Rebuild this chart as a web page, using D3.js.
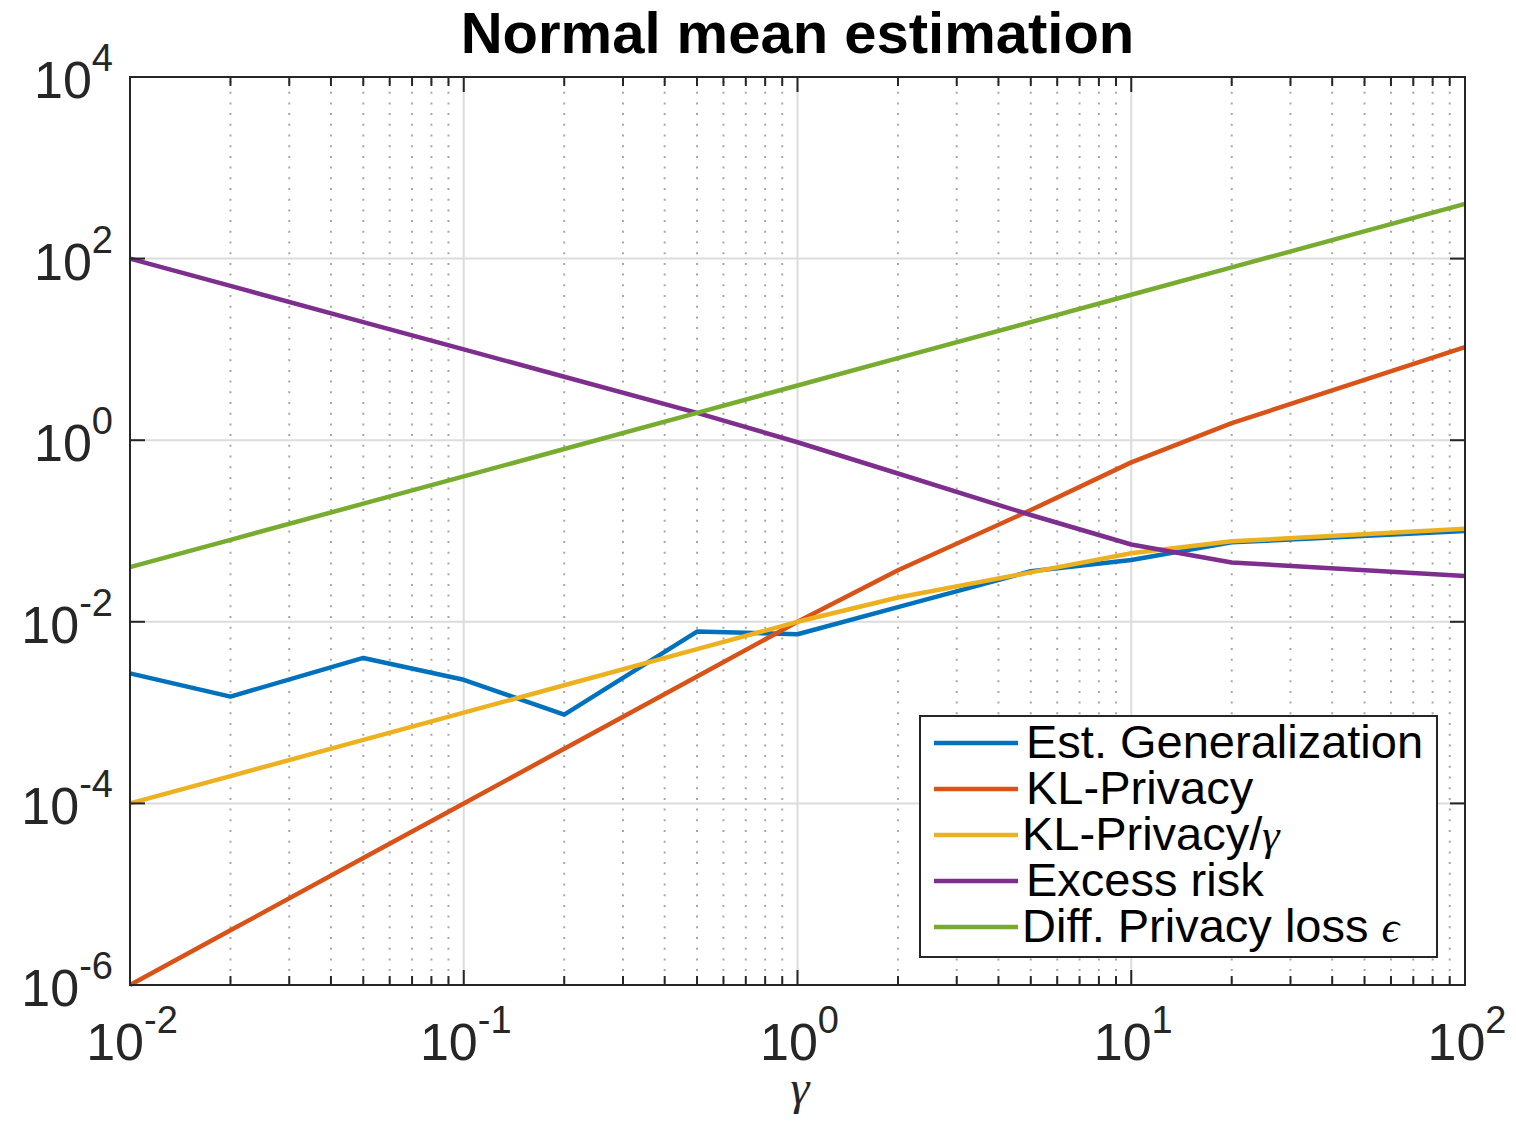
<!DOCTYPE html>
<html>
<head>
<meta charset="utf-8">
<script src="https://cdn.jsdelivr.net/npm/d3@7"></script>
<style>
  body { margin: 0; background: #fff; }
  svg { display: block; }
</style>
</head>
<body>
<script>
// values
var gammaVals   = [0.01, 0.02, 0.05, 0.1, 0.2, 0.5, 1, 2, 5, 10, 20, 100];
var estGen      = [2.7e-3, 1.5e-3, 4.0e-3, 2.3e-3, 9.5e-4, 7.8e-3, 7.3e-3, 0.0145, 0.036, 0.048, 0.075, 0.1];
var klPrivacy   = [1e-6, 4e-6, 2.5e-5, 1e-4, 4e-4, 2.5e-3, 1e-2, 0.037, 0.17, 0.57, 1.54, 10.6];
var klOverGamma = [1e-4, 2e-4, 5e-4, 1e-3, 2e-3, 5e-3, 1e-2, 0.0185, 0.035, 0.057, 0.077, 0.106];
var excessRisk  = [100, 50, 20, 10, 5, 2, 0.95, 0.43, 0.15, 0.071, 0.045, 0.032];
var dpLoss      = [0.04, 0.08, 0.2, 0.4, 0.8, 2, 4, 8, 20, 40, 80, 400];

var xTickExps = [-2, -1, 0, 1, 2];
var yTickExps = [-6, -4, -2, 0, 2, 4];

var seriesNames  = ['Est. Generalization', 'KL-Privacy', 'KL-Privacy/', 'Excess risk', 'Diff. Privacy loss '];
var seriesSuffix = ['', '', '\u03B3', '', '\u03F5'];
var seriesColors = ['#0072BD', '#D95319', '#EDB120', '#7E2F8E', '#77AC30'];
var seriesValues = [estGen, klPrivacy, klOverGamma, excessRisk, dpLoss];

var W = 1516, H = 1126;
var plotL = 130, plotR = 1465, plotT = 77, plotB = 985;
var axisColor = '#262626';

var svg = d3.select('body').append('svg')
    .attr('width', W)
    .attr('height', H);

var x = d3.scaleLog().domain([1e-2, 1e2]).range([plotL, plotR]);
var y = d3.scaleLog().domain([1e-6, 1e4]).range([plotB, plotT]);

// minor x values 2..9 per decade
var minorX = [];
xTickExps.slice(0, -1).forEach(function(e){
    for (var k = 2; k <= 9; k++) minorX.push(k * Math.pow(10, e));
});

var grid = svg.append('g').attr('id', 'grid');
grid.selectAll('line.minor')
    .data(minorX)
    .enter().append('line')
    .attr('class', 'minor')
    .attr('x1', function(d){ return x(d); })
    .attr('x2', function(d){ return x(d); })
    .attr('y1', plotT + 4)
    .attr('y2', plotB)
    .attr('stroke', '#a8a8a8')
    .attr('stroke-width', 2)
    .attr('stroke-dasharray', '2,8.7');
grid.selectAll('line.majx')
    .data(xTickExps.slice(1, -1))
    .enter().append('line')
    .attr('class', 'majx')
    .attr('x1', function(d){ return x(Math.pow(10, d)); })
    .attr('x2', function(d){ return x(Math.pow(10, d)); })
    .attr('y1', plotT)
    .attr('y2', plotB)
    .attr('stroke', '#dcdcdc')
    .attr('stroke-width', 2);
grid.selectAll('line.majy')
    .data(yTickExps.slice(1, -1))
    .enter().append('line')
    .attr('class', 'majy')
    .attr('y1', function(d){ return y(Math.pow(10, d)); })
    .attr('y2', function(d){ return y(Math.pow(10, d)); })
    .attr('x1', plotL)
    .attr('x2', plotR)
    .attr('stroke', '#dcdcdc')
    .attr('stroke-width', 2);

// lines
var line = d3.line()
    .x(function(d){ return x(d[0]); })
    .y(function(d){ return y(d[1]); });

svg.append('g').attr('id', 'lines')
    .selectAll('path')
    .data(seriesValues)
    .enter().append('path')
    .attr('d', function(vals){
        return line(vals.map(function(v, i){ return [gammaVals[i], v]; }));
    })
    .attr('fill', 'none')
    .attr('stroke', function(d, i){ return seriesColors[i]; })
    .attr('stroke-width', 4.5)
    .attr('stroke-linejoin', 'round');

// box and ticks
var ax = svg.append('g').attr('id', 'axes');
ax.append('rect')
    .attr('x', plotL).attr('y', plotT)
    .attr('width', plotR - plotL).attr('height', plotB - plotT)
    .attr('fill', 'none')
    .attr('stroke', axisColor)
    .attr('stroke-width', 2);

var xTicks = minorX.map(function(d){ return {v: d, len: 9}; })
    .concat(xTickExps.map(function(e){ return {v: Math.pow(10, e), len: 15}; }));
[[plotB, -1], [plotT, 1]].forEach(function(p){
    ax.append('g').selectAll('line')
        .data(xTicks)
        .enter().append('line')
        .attr('x1', function(d){ return x(d.v); })
        .attr('x2', function(d){ return x(d.v); })
        .attr('y1', p[0])
        .attr('y2', function(d){ return p[0] + p[1] * d.len; })
        .attr('stroke', axisColor)
        .attr('stroke-width', 2);
});
[[plotL, 1], [plotR, -1]].forEach(function(p){
    ax.append('g').selectAll('line')
        .data(yTickExps)
        .enter().append('line')
        .attr('y1', function(d){ return y(Math.pow(10, d)); })
        .attr('y2', function(d){ return y(Math.pow(10, d)); })
        .attr('x1', p[0])
        .attr('x2', function(d){ return p[0] + p[1] * 15; })
        .attr('stroke', axisColor)
        .attr('stroke-width', 2);
});

// tick labels 10^n
function powLabel(sel){
    sel.append('tspan').attr('font-size', 52).text('10');
    sel.append('tspan').attr('font-size', 38).attr('dy', -27)
        .text(function(d){ return String(d); });
}

ax.append('g').selectAll('text')
    .data(xTickExps)
    .enter().append('text')
    .attr('x', function(d){ return x(Math.pow(10, d)) + 2; })
    .attr('y', 1060)
    .attr('text-anchor', 'middle')
    .attr('fill', axisColor)
    .attr('font-family', 'Liberation Sans, Arial, sans-serif')
    .call(powLabel);

ax.append('g').selectAll('text')
    .data(yTickExps)
    .enter().append('text')
    .attr('x', 113)
    .attr('y', function(d){ return y(Math.pow(10, d)) + 21; })
    .attr('text-anchor', 'end')
    .attr('fill', axisColor)
    .attr('font-family', 'Liberation Sans, Arial, sans-serif')
    .call(powLabel);

// axis label and title
svg.append('text')
    .attr('x', 800).attr('y', 1104)
    .attr('text-anchor', 'middle')
    .attr('font-family', 'Liberation Serif, Times New Roman, serif')
    .attr('font-style', 'italic')
    .attr('font-size', 48)
    .attr('fill', axisColor)
    .text('\u03B3');

svg.append('text')
    .attr('x', (plotL + plotR) / 2).attr('y', 53)
    .attr('text-anchor', 'middle')
    .attr('font-family', 'Liberation Sans, Arial, sans-serif')
    .attr('font-weight', 'bold')
    .attr('font-size', 58)
    .attr('fill', '#000')
    .text('Normal mean estimation');

// legend
var lg = svg.append('g').attr('id', 'legend');
lg.append('rect')
    .attr('x', 920).attr('y', 716)
    .attr('width', 517).attr('height', 241)
    .attr('fill', '#fff')
    .attr('stroke', axisColor)
    .attr('stroke-width', 2);

var rows = lg.selectAll('g.row')
    .data(seriesNames)
    .enter().append('g')
    .attr('class', 'row')
    .attr('transform', function(d, i){ return 'translate(0,' + (743 + i * 46) + ')'; });
rows.append('line')
    .attr('x1', 934).attr('x2', 1018)
    .attr('stroke', function(d, i){ return seriesColors[i]; })
    .attr('stroke-width', 4.5);
var lt = rows.append('text')
    .attr('x', function(d, i){ return (i === 2 || i === 4) ? 1022 : 1026; })
    .attr('y', 15)
    .attr('font-family', 'Liberation Sans, Arial, sans-serif')
    .attr('font-size', 47)
    .attr('fill', '#000');
lt.append('tspan').text(function(d){ return d; });
lt.append('tspan')
    .attr('font-family', 'Liberation Serif, Times New Roman, serif')
    .attr('font-style', 'italic')
    .attr('font-size', 44)
    .text(function(d, i){ return seriesSuffix[i]; });
</script>
</body>
</html>
